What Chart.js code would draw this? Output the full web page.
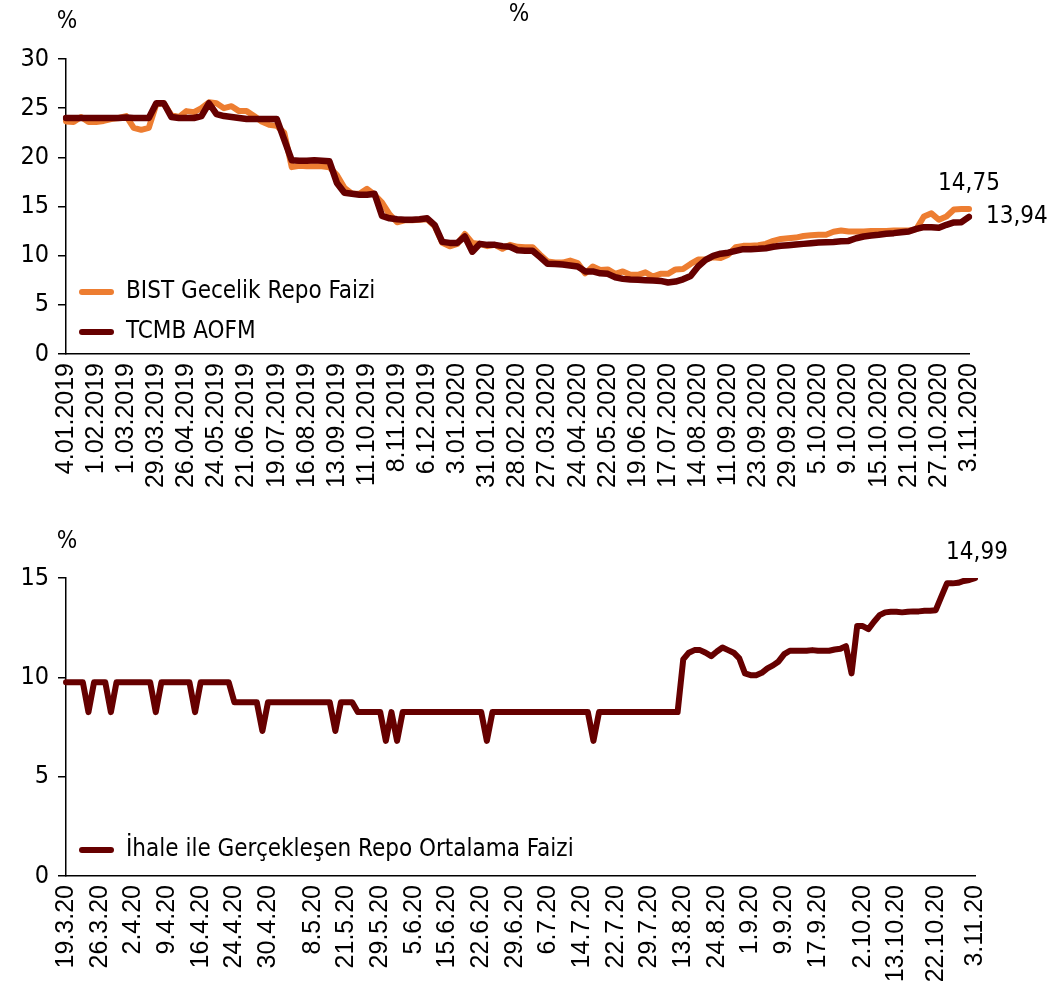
<!DOCTYPE html>
<html>
<head>
<meta charset="utf-8">
<script src="https://cdn.jsdelivr.net/npm/chart.js@4.4.1/dist/chart.umd.min.js"></script>
<style>
  body { margin: 0; background: #fff; width: 1056px; height: 990px; overflow: hidden; }
  canvas { position: absolute; left: 0; }
</style>
</head>
<body>
<canvas id="topChart" width="1056" height="500" style="top:0"></canvas>
<canvas id="bottomChart" width="1056" height="490" style="top:500px"></canvas>
<script>
// top chart: weekly/daily rates, one tick label every 4 points
const topTickLabels = ['4.01.2019', '1.02.2019', '1.03.2019', '29.03.2019', '26.04.2019', '24.05.2019',
    '21.06.2019', '19.07.2019', '16.08.2019', '13.09.2019', '11.10.2019', '8.11.2019', '6.12.2019',
    '3.01.2020', '31.01.2020', '28.02.2020', '27.03.2020', '24.04.2020', '22.05.2020', '19.06.2020',
    '17.07.2020', '14.08.2020', '11.09.2020', '23.09.2020', '29.09.2020', '5.10.2020', '9.10.2020',
    '15.10.2020', '21.10.2020', '27.10.2020', '3.11.2020'];
const topTickEvery = 4;

const bistRepo = [
    23.65, 23.6, 24.1, 23.6, 23.6, 23.7, 23.9, 24.0, 24.2, 23.0, 22.8, 23.0,
    25.4, 25.5, 24.3, 24.1, 24.7, 24.6, 25.0, 25.6, 25.5, 25.0, 25.2, 24.7,
    24.7, 24.2, 23.65, 23.3, 23.2, 22.5, 19.0, 19.15, 19.1, 19.1, 19.1, 19.0,
    18.2, 16.9, 16.3, 16.3, 16.8, 16.2, 15.4, 14.2, 13.4, 13.6, 13.6, 13.65,
    13.7, 13.0, 11.3, 10.95, 11.2, 12.2, 11.3, 11.2, 10.97, 11.1, 10.7, 11.1,
    10.9, 10.86, 10.86, 10.1, 9.4, 9.3, 9.3, 9.5, 9.24, 8.2, 8.9, 8.55,
    8.6, 8.15, 8.4, 8.05, 8.05, 8.3, 7.87, 8.15, 8.15, 8.6, 8.65, 9.16,
    9.6, 9.6, 9.84, 9.77, 10.1, 10.86, 11.0, 11.0, 11.06, 11.2, 11.5, 11.7,
    11.77, 11.84, 12.0, 12.08, 12.12, 12.12, 12.43, 12.56, 12.46, 12.46, 12.46, 12.5,
    12.5, 12.52, 12.56, 12.56, 12.56, 12.7, 13.98, 14.3, 13.65, 13.98, 14.7, 14.75,
    14.75];

const tcmbAofm = [
    24.0, 24.0, 24.0, 24.0, 24.0, 24.0, 24.0, 24.0, 24.05, 24.0, 24.0, 24.0,
    25.5, 25.5, 24.1, 24.0, 24.0, 24.0, 24.2, 25.5, 24.4, 24.2, 24.1, 24.0,
    23.9, 23.9, 23.9, 23.9, 23.9, 21.8, 19.7, 19.65, 19.65, 19.7, 19.65, 19.6,
    17.4, 16.4, 16.3, 16.2, 16.2, 16.3, 14.05, 13.8, 13.7, 13.65, 13.65, 13.7,
    13.8, 13.1, 11.4, 11.3, 11.3, 11.95, 10.4, 11.2, 11.1, 11.1, 10.97, 10.9,
    10.55, 10.5, 10.5, 9.85, 9.17, 9.15, 9.1, 9.0, 8.9, 8.4, 8.4, 8.2,
    8.15, 7.8, 7.64, 7.57, 7.54, 7.5, 7.47, 7.43, 7.27, 7.37, 7.6, 7.94,
    8.9, 9.57, 9.98, 10.2, 10.3, 10.49, 10.66, 10.66, 10.7, 10.76, 10.9, 11.0,
    11.06, 11.13, 11.2, 11.27, 11.33, 11.37, 11.4, 11.46, 11.5, 11.77, 11.95, 12.05,
    12.12, 12.22, 12.29, 12.39, 12.46, 12.72, 12.9, 12.9, 12.84, 13.14, 13.38, 13.41,
    13.94];

// bottom chart: daily auction repo rate
const bottomTickLabels = ['19.3.20', '26.3.20', '2.4.20', '9.4.20', '16.4.20', '24.4.20', '30.4.20',
    '8.5.20', '21.5.20', '29.5.20', '5.6.20', '15.6.20', '22.6.20', '29.6.20', '6.7.20', '14.7.20',
    '22.7.20', '29.7.20', '13.8.20', '24.8.20', '1.9.20', '9.9.20', '17.9.20', '2.10.20', '13.10.20',
    '22.10.20', '3.11.20'];
const bottomTickIndex = [0, 6, 12, 18, 24, 30, 36, 44, 50, 56, 62, 68, 74, 80, 86, 92, 98, 104,
    110, 116, 122, 128, 134, 142, 148, 155, 162];

const auctionRepo = [
    9.75, 9.75, 9.75, 9.75, 8.25, 9.75, 9.75, 9.75, 8.25, 9.75, 9.75, 9.75,
    9.75, 9.75, 9.75, 9.75, 8.25, 9.75, 9.75, 9.75, 9.75, 9.75, 9.75, 8.25,
    9.75, 9.75, 9.75, 9.75, 9.75, 9.75, 8.75, 8.75, 8.75, 8.75, 8.75, 7.3,
    8.75, 8.75, 8.75, 8.75, 8.75, 8.75, 8.75, 8.75, 8.75, 8.75, 8.75, 8.75,
    7.3, 8.75, 8.75, 8.75, 8.25, 8.25, 8.25, 8.25, 8.25, 6.8, 8.25, 6.8,
    8.25, 8.25, 8.25, 8.25, 8.25, 8.25, 8.25, 8.25, 8.25, 8.25, 8.25, 8.25,
    8.25, 8.25, 8.25, 6.8, 8.25, 8.25, 8.25, 8.25, 8.25, 8.25, 8.25, 8.25,
    8.25, 8.25, 8.25, 8.25, 8.25, 8.25, 8.25, 8.25, 8.25, 8.25, 6.8, 8.25,
    8.25, 8.25, 8.25, 8.25, 8.25, 8.25, 8.25, 8.25, 8.25, 8.25, 8.25, 8.25,
    8.25, 8.25, 10.9, 11.24, 11.37, 11.37, 11.24, 11.07, 11.3, 11.5, 11.37, 11.24,
    10.95, 10.2, 10.11, 10.11, 10.23, 10.45, 10.6, 10.8, 11.17, 11.34, 11.34, 11.34,
    11.34, 11.37, 11.34, 11.34, 11.34, 11.4, 11.44, 11.57, 10.2, 12.58, 12.58, 12.43,
    12.8, 13.13, 13.27, 13.3, 13.3, 13.27, 13.3, 13.32, 13.32, 13.35, 13.35, 13.38,
    14.06, 14.73, 14.73, 14.76, 14.85, 14.9, 14.99];

const orange = '#ED7D31';
const darkRed = '#660000';
const sansFont = "'DejaVu Sans Condensed', 'DejaVu Sans', sans-serif";
const tickFont = "'Liberation Sans', Arial, sans-serif";

const topLabels = bistRepo.map((v, i) => i % topTickEvery === 0 ? topTickLabels[i / topTickEvery] : '');
const bottomLabels = auctionRepo.map(() => '');
bottomTickIndex.forEach((idx, k) => { bottomLabels[idx] = bottomTickLabels[k]; });

// legend inside the plot, end-point value labels and the "%" marks
const extras = {
    id: 'extras',
    afterDatasetsDraw(chart, args, opts) {
        const ctx = chart.ctx;
        ctx.save();
        ctx.fillStyle = '#000';
        ctx.textBaseline = 'middle';
        ctx.font = '24px ' + sansFont;
        ctx.textAlign = 'center';
        opts.percent.forEach(p => ctx.fillText('%', p[0], p[1]));

        opts.legend.forEach(item => {
            const ds = chart.data.datasets[item.ds];
            ctx.strokeStyle = ds.borderColor;
            ctx.lineWidth = 6;
            ctx.lineCap = 'round';
            ctx.beginPath();
            ctx.moveTo(82, item.y);
            ctx.lineTo(111, item.y);
            ctx.stroke();
            ctx.textAlign = 'left';
            ctx.fillText(ds.label, 126, item.y);
        });

        opts.notes.forEach(n => {
            const ds = chart.data.datasets[n.ds];
            const meta = chart.getDatasetMeta(n.ds);
            const last = meta.data.length - 1;
            const pt = meta.data[last];
            ctx.textAlign = n.align;
            ctx.fillText(ds.data[last].toFixed(2).replace('.', ','), pt.x + n.dx, pt.y + n.dy);
        });
        ctx.restore();
    }
};

function yAxis(max) {
    return {
        min: 0,
        max: max,
        afterFit: (s) => { s.width = 66; },
        ticks: { stepSize: 5, padding: 9, color: '#000', font: { family: sansFont, size: 25 } },
        grid: { drawOnChartArea: false, drawTicks: true, tickLength: 8, color: '#000', lineWidth: 1.5 },
        border: { display: true, color: '#000', width: 1.5 }
    };
}

function xAxis(height) {
    return {
        offset: false,
        afterFit: (s) => { s.height = height; },
        ticks: {
            autoSkip: false, maxRotation: 90, minRotation: 90, padding: 9,
            color: '#000', font: { family: tickFont, size: 25 }
        },
        grid: { display: false, drawTicks: false },
        border: { display: true, color: '#000', width: 1.5 }
    };
}

new Chart(document.getElementById('topChart'), {
    type: 'line',
    data: {
        labels: topLabels,
        datasets: [{
            label: 'BIST Gecelik Repo Faizi',
            data: bistRepo,
            borderColor: orange,
            borderWidth: 6,
            order: 1
        }, {
            label: 'TCMB AOFM',
            data: tcmbAofm,
            borderColor: darkRed,
            borderWidth: 6.5,
            order: 0
        }]
    },
    options: {
        responsive: false,
        animation: false,
        layout: { padding: { top: 59, right: 87, left: 0, bottom: 0 } },
        elements: {
            point: { radius: 0 },
            line: { tension: 0, borderJoinStyle: 'round', borderCapStyle: 'round' }
        },
        scales: { x: xAxis(146), y: yAxis(30) },
        plugins: {
            legend: { display: false },
            tooltip: { enabled: false },
            extras: {
                percent: [[67, 22], [519, 15]],
                legend: [{ ds: 0, y: 292 }, { ds: 1, y: 332 }],
                notes: [
                    { ds: 0, align: 'center', dx: 0, dy: -25 },
                    { ds: 1, align: 'left', dx: 17, dy: 0 }
                ]
            }
        }
    },
    plugins: [extras]
});

new Chart(document.getElementById('bottomChart'), {
    type: 'line',
    data: {
        labels: bottomLabels,
        datasets: [{
            label: 'İhale ile Gerçekleşen Repo Ortalama Faizi',
            data: auctionRepo,
            borderColor: darkRed,
            borderWidth: 6
        }]
    },
    options: {
        responsive: false,
        animation: false,
        layout: { padding: { top: 78, right: 81, left: 0, bottom: 0 } },
        elements: {
            point: { radius: 0 },
            line: { tension: 0, borderJoinStyle: 'round', borderCapStyle: 'round' }
        },
        scales: { x: xAxis(114), y: yAxis(15) },
        plugins: {
            legend: { display: false },
            tooltip: { enabled: false },
            extras: {
                percent: [[67, 42]],
                legend: [{ ds: 0, y: 350 }],
                notes: [{ ds: 0, align: 'center', dx: 2, dy: -25 }]
            }
        }
    },
    plugins: [extras]
});
</script>
</body>
</html>
